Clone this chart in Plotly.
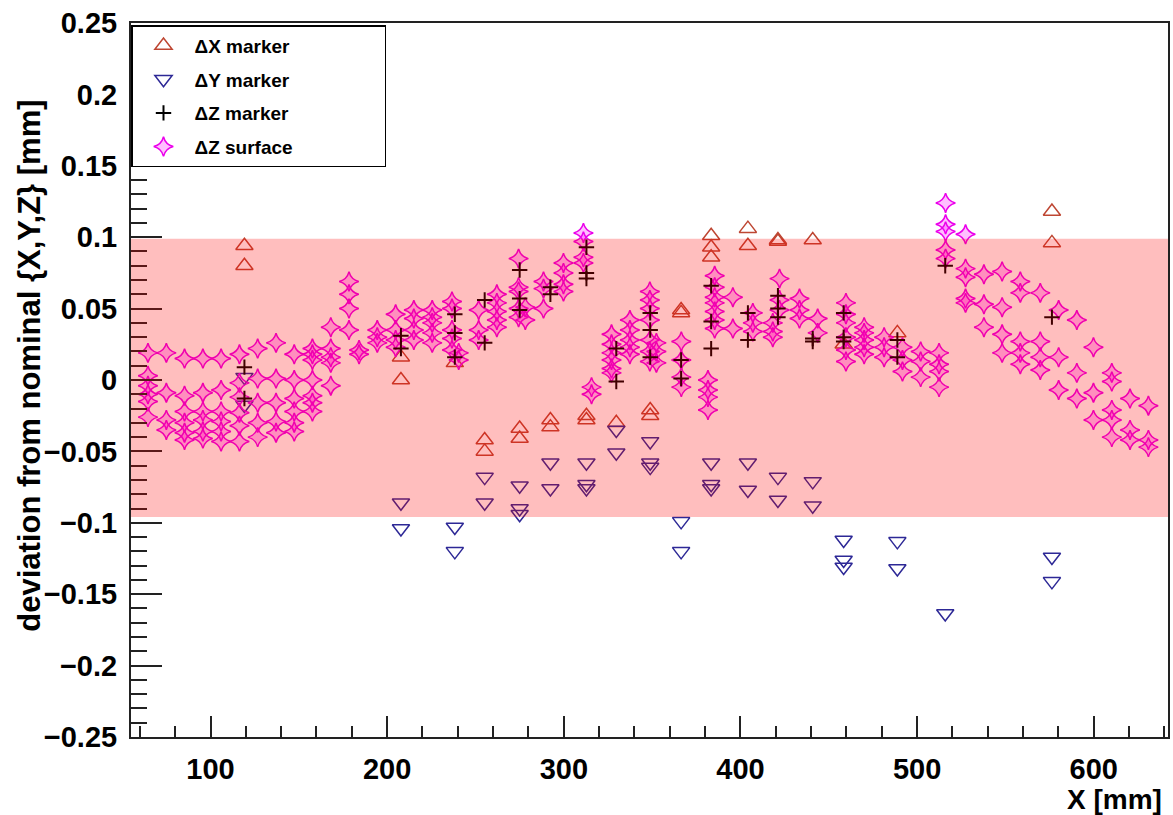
import plotly.graph_objects as go

# ---------------- data ----------------
dx_x = [119.2, 119.2, 207.8, 207.8, 238.3, 255.2, 255.2, 275.0, 275.0, 292.4, 292.4,
        312.8, 312.8, 329.7, 348.9, 348.9, 366.4, 366.4, 383.4, 383.4, 383.4,
        404.2, 404.2, 421.2, 421.2, 440.9, 458.4, 488.8, 576.3, 576.3]
dx_y = [0.094, 0.080, 0.016, 0.000, 0.012, -0.042, -0.050, -0.034, -0.041, -0.028, -0.033,
        -0.025, -0.028, -0.030, -0.021, -0.025, 0.049, 0.047, 0.101, 0.093, 0.086,
        0.106, 0.094, 0.097, 0.098, 0.098, 0.025, 0.033, 0.118, 0.096]

dy_x = [119.2, 119.2, 207.8, 207.8, 238.3, 238.3, 255.2, 255.2, 275.0, 275.0, 275.0,
        292.4, 292.4, 312.8, 312.8, 312.8, 329.7, 329.7, 348.9, 348.9, 348.9,
        366.4, 366.4, 383.4, 383.4, 383.4, 404.2, 404.2, 421.2, 421.2, 440.9, 440.9,
        458.4, 458.4, 458.4, 488.8, 488.8, 515.9, 576.3, 576.3]
dy_y = [0.002, -0.0175, -0.086, -0.104, -0.103, -0.120, -0.068, -0.086, -0.074, -0.090, -0.094,
        -0.058, -0.076, -0.058, -0.073, -0.076, -0.035, -0.051, -0.043, -0.058, -0.061,
        -0.099, -0.120, -0.058, -0.073, -0.076, -0.058, -0.077, -0.068, -0.084, -0.071, -0.088,
        -0.112, -0.126, -0.131, -0.113, -0.132, -0.1635, -0.124, -0.141]

dzm_x = [119.2, 119.2, 207.8, 207.8, 238.3, 238.3, 238.3, 255.2, 255.2, 275.0, 275.0, 275.0,
         292.4, 292.4, 312.8, 312.8, 312.8, 329.7, 329.7, 348.9, 348.9, 348.9, 366.4, 366.4,
         383.4, 383.4, 383.4, 404.2, 404.2, 421.2, 421.2, 421.2, 440.9, 440.9,
         458.4, 458.4, 458.4, 488.8, 488.8, 515.9, 576.3]
dzm_y = [0.009, -0.013, 0.031, 0.022, 0.046, 0.033, 0.016, 0.056, 0.026, 0.077, 0.057, 0.049,
         0.065, 0.060, 0.093, 0.075, 0.071, 0.022, -0.001, 0.047, 0.035, 0.016, 0.014, 0.001,
         0.066, 0.041, 0.022, 0.047, 0.028, 0.059, 0.050, 0.044, 0.029, 0.027,
         0.047, 0.030, 0.027, 0.028, 0.016, 0.080, 0.044]

# surface points, one list per x column
surf_col_x = [64.6, 75.0, 85.3, 95.7, 106.0, 116.4, 126.7, 137.1, 147.4, 157.7, 168.1,
              178.4, 184.1, 194.4, 204.8, 215.1, 225.5, 236.7, 240.5, 251.8, 262.1,
              274.4, 278.2, 288.5, 299.8, 311.1, 315.7, 327.0, 337.4, 348.7, 352.4,
              366.5, 381.6, 385.4, 395.7, 407.0, 418.3, 422.1, 433.4, 443.7, 459.7,
              470.0, 481.3, 491.7, 502.0, 512.4, 516.1, 527.4, 537.8, 548.1, 558.4,
              569.7, 580.1, 590.4, 599.8, 610.2, 620.5, 630.9]
surf_col_y = [
    [0.019, 0.003, -0.004, -0.010, -0.015, -0.026],
    [0.019, -0.009, -0.028, -0.035],
    [0.015, -0.011, -0.022, -0.030, -0.037, -0.042],
    [0.015, -0.009, -0.022, -0.028, -0.036, -0.041],
    [0.015, -0.007, -0.022, -0.029, -0.036, -0.043],
    [0.018, -0.002, -0.012, -0.023, -0.032, -0.043],
    [0.022, 0.001, -0.016, -0.030, -0.040],
    [0.026, 0.001, -0.016, -0.029, -0.037],
    [0.018, 0.000, -0.013, -0.022, -0.030, -0.036],
    [0.022, 0.018, 0.014, 0.000, -0.011, -0.016, -0.022],
    [0.037, 0.022, 0.016, 0.012, -0.004],
    [0.069, 0.060, 0.050, 0.035],
    [0.021, 0.018],
    [0.035, 0.030, 0.026],
    [0.046, 0.035, 0.028, 0.023],
    [0.049, 0.043, 0.035, 0.028],
    [0.049, 0.044, 0.040, 0.033, 0.026],
    [0.055, 0.050, 0.035, 0.029, 0.021],
    [0.019, 0.014],
    [0.049, 0.035, 0.028],
    [0.060, 0.054, 0.048, 0.042, 0.037],
    [0.085, 0.065, 0.062, 0.050, 0.044],
    [0.051, 0.042],
    [0.069, 0.064, 0.050],
    [0.082, 0.075, 0.067, 0.062],
    [0.103, 0.097, 0.086, 0.082],
    [-0.005, -0.010],
    [0.032, 0.025, 0.019, 0.014, 0.008, 0.005],
    [0.042, 0.035, 0.028, 0.023, 0.018],
    [0.062, 0.056, 0.050, 0.042, 0.028, 0.020, 0.013],
    [0.026, 0.020, 0.012],
    [0.027, 0.014, 0.002, -0.005],
    [0.000, -0.007, -0.012, -0.021],
    [0.073, 0.065, 0.058, 0.054, 0.048, 0.042, 0.036],
    [0.058, 0.036],
    [0.047, 0.040, 0.034],
    [0.040, 0.034, 0.030],
    [0.071, 0.056, 0.049],
    [0.057, 0.049, 0.043],
    [0.043, 0.033],
    [0.054, 0.046, 0.040, 0.030, 0.021, 0.013],
    [0.037, 0.033, 0.028, 0.023, 0.018],
    [0.030, 0.023, 0.016],
    [0.023, 0.014, 0.006],
    [0.020, 0.013, 0.002],
    [0.019, 0.011, 0.006, -0.005],
    [0.124, 0.109, 0.104, 0.091, 0.085],
    [0.102, 0.078, 0.072, 0.057, 0.054],
    [0.074, 0.053, 0.037],
    [0.076, 0.051, 0.032, 0.019],
    [0.069, 0.061, 0.027, 0.019, 0.011],
    [0.061, 0.027, 0.016, 0.007],
    [0.049, 0.016, -0.007],
    [0.042, 0.005, -0.013],
    [0.023, -0.009, -0.028],
    [0.005, -0.001, -0.021, -0.028, -0.040],
    [-0.013, -0.035, -0.042],
    [-0.018, -0.042, -0.047],
]

tolerance_band = [-0.096, 0.099]
x_ticks = [100, 200, 300, 400, 500, 600]

surf_x = [cx for cx, col in zip(surf_col_x, surf_col_y) for _ in col]
surf_y = [v for col in surf_col_y for v in col]

FONT = "Liberation Sans"
PAD = "\u00a0" * 17

fig = go.Figure()
fig.add_trace(go.Scatter(
    x=dx_x, y=dx_y, mode="markers", name="ΔX marker" + PAD, legendgroup="a", legendrank=1,
    marker=dict(symbol="triangle-up-open", size=15, color="rgb(190,70,50)", line=dict(width=1.5))))
fig.add_trace(go.Scatter(
    x=dy_x, y=dy_y, mode="markers", name="ΔY marker", legendgroup="b", legendrank=2,
    marker=dict(symbol="triangle-down-open", size=15, color="rgb(45,40,150)", line=dict(width=1.5))))
fig.add_trace(go.Scatter(
    x=surf_x, y=surf_y, mode="markers", name="ΔZ surface", legendgroup="d", legendrank=4,
    marker=dict(symbol="star-diamond", size=14, color="rgba(255,0,255,0.25)",
                line=dict(width=1.5, color="rgb(235,0,235)"))))
fig.add_trace(go.Scatter(
    x=dzm_x, y=dzm_y, mode="markers", name="ΔZ marker", legendgroup="c", legendrank=3,
    marker=dict(symbol="cross-thin-open", size=11, color="black", line=dict(width=2))))

fig.add_shape(type="rect", xref="paper", yref="y", x0=0, x1=1,
              y0=tolerance_band[0], y1=tolerance_band[1],
              fillcolor="rgba(255,0,0,0.255)", line_width=0, layer="above")

tickfont = dict(family=FONT, size=29, weight="bold", color="black")
fig.update_layout(
    width=1173, height=815,
    margin=dict(l=131, r=3, t=23, b=78),
    paper_bgcolor="white", plot_bgcolor="white",
    showlegend=True,
    xaxis=dict(range=[55, 642], tickvals=x_ticks, ticks="inside", ticklen=21, tickwidth=1.5,
               tickcolor="#222",
               minor=dict(ticks="inside", ticklen=11, dtick=20, tick0=0, tickcolor="#222", tickwidth=1.5),
               showgrid=False, zeroline=False, showline=True, linecolor="#222", linewidth=2,
               mirror=True, tickfont=tickfont, ticklabelstandoff=5),
    yaxis=dict(range=[-0.25, 0.25], tick0=0, dtick=0.05, ticks="inside", ticklen=31, tickwidth=1.5,
               tickcolor="#222",
               minor=dict(ticks="inside", ticklen=16, dtick=0.01, tick0=0, tickcolor="#222", tickwidth=1.5),
               showgrid=False, zeroline=False, showline=True, linecolor="#222", linewidth=2,
               mirror=True, tickfont=tickfont, ticklabelstandoff=6),
    legend=dict(x=0, y=0.997, xanchor="left", yanchor="top", bgcolor="white",
                bordercolor="black", borderwidth=1.5, tracegroupgap=6, itemwidth=52,
                font=dict(family=FONT, size=19, weight="bold", color="black")),
    annotations=[
        dict(text="deviation from nominal {X,Y,Z} [mm]", textangle=-90, xref="paper", yref="paper",
             x=0, xshift=-101, y=0.52, xanchor="center", yanchor="middle", showarrow=False,
             font=dict(family=FONT, size=31, weight="bold", color="black")),
        dict(text="X [mm]", xref="paper", yref="paper", x=1, xshift=-4, y=-0.0882,
             xanchor="right", yanchor="middle", showarrow=False,
             font=dict(family=FONT, size=28, weight="bold", color="black")),
    ],
)

fig.write_html("out.html", config={"displayModeBar": False},
               post_script="document.body.style.margin='0';document.body.style.overflow='hidden';")
